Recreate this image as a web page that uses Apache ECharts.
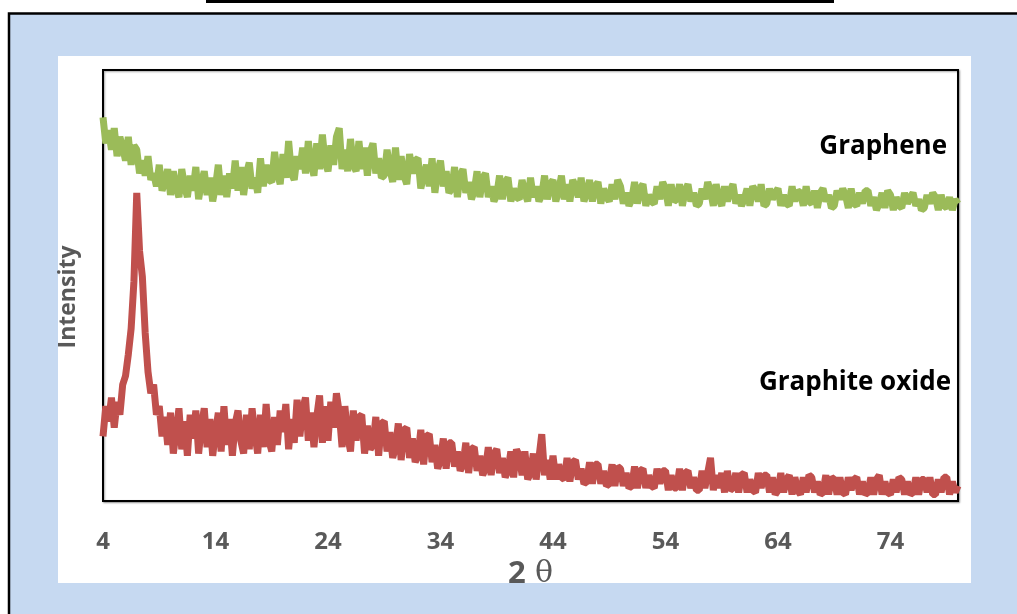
<!DOCTYPE html>
<html>
<head>
<meta charset="utf-8">
<title>XRD</title>
<script src="https://cdn.jsdelivr.net/npm/echarts/dist/echarts.min.js"></script>
<style>
    html, body { margin: 0; padding: 0; background: #fff; }
    #main { width: 1017px; height: 614px; }
</style>
</head>
<body>
<div id="main"></div>
<script>
// scan: 2theta from 4 to 80, step 0.25
var startAngle = 4;
var stepAngle = 0.25;
var tickLabels = [4, 14, 24, 34, 44, 54, 64, 74];
var seriesNames = ['Graphene', 'Graphite oxide'];

// intensity (arbitrary units, 0-100 over the plot height)
// one row = one degree (x.00, x.25, x.50, x.75)
var grapheneVals = [
    89, 83, 86, 81.5,
    86.5, 80, 84.5, 82,
    79, 84.5, 78, 82.5,
    81.5, 76, 79, 75.5,
    80, 74.5, 76, 73,
    78, 72, 74, 77,
    71, 76.5, 72.5, 70.5,
    77, 73, 70.5, 75.5,
    72, 77.5, 70, 74,
    76.5, 71, 75, 69.5,
    73, 78, 71, 75.5,
    70.5, 76, 72.5, 79,
    72, 77.5, 71, 76,
    78.5, 72.5, 75, 71.5,
    79.5, 73, 78, 74.5,
    74, 81, 76, 73.5,
    80.5, 75, 83.5, 76,
    74.5, 80, 77, 82,
    76, 83.5, 78, 75.5,
    83, 77, 85, 78.5,
    76.5, 82.5, 78, 84.5,
    86.5, 77, 81.5, 76.5,
    84, 78, 76.5, 83.5,
    77, 82, 75.5, 81,
    83, 76, 79.5, 75,
    75.5, 81.5, 77, 74,
    82, 74.5, 80, 75.5,
    73.5, 80.5, 76, 79,
    79.5, 72.5, 75.5, 78,
    73, 79.5, 71.5, 76.5,
    79, 73, 76.5, 71.5,
    72.5, 77.5, 70.5, 75.5,
    77, 71.5, 74, 70,
    72, 76.5, 70.5, 75,
    76, 70.5, 73, 69.5,
    71, 75.5, 70, 74,
    75, 69.5, 72.5, 70.5,
    70, 74.5, 71.5, 69.5,
    75, 70.5, 73, 69.5,
    71, 75.5, 70, 73.5,
    74.5, 69.5, 72, 75.5,
    70, 73.5, 69.5, 74.5,
    73, 70.5, 75, 69.5,
    71.5, 74.5, 69.5, 73,
    74, 69, 72.5, 70.5,
    69.5, 73.5, 70, 74.5,
    73, 69, 71.5, 68.5,
    70, 74, 69, 72.5,
    73.5, 68.5, 71, 69.5,
    69, 73, 70, 74,
    72.5, 68.5, 73.5, 69.5,
    70, 73.5, 68.5, 72,
    73.5, 69.5, 71.5, 68.5,
    69, 72.5, 70, 74,
    72, 68.5, 73.5, 70,
    68.5, 73, 69.5, 72,
    73.5, 69, 71, 68.5,
    70, 72.5, 68.5, 73,
    72, 69.5, 73.5, 68.5,
    69, 72.5, 70, 71.5,
    72.5, 68.5, 71, 69,
    68.5, 73, 69.5, 72,
    71.5, 68.5, 73, 69.5,
    69, 72, 68, 71.5,
    72.5, 69.5, 71, 68,
    68.5, 72, 70, 72.5,
    71, 68, 72.5, 69,
    68.5, 71.5, 69, 72,
    72, 68.5, 70.5, 67.5,
    69, 71.5, 68, 72,
    71, 67.5, 70.5, 68.5,
    68, 71.5, 69, 70.5,
    71.5, 68.5, 70, 67.5,
    68, 71, 69, 71.5,
    70.5, 67.5, 71, 68.5,
    68, 70.5, 67.5, 70,
    69
];

var oxideVals = [
    15, 22, 18.5, 24,
    17, 23, 20, 27,
    29, 34, 40, 51,
    71.5, 58, 52, 39,
    30, 25, 27, 20,
    22, 15, 19.5, 13,
    20.5, 11, 16, 21.5,
    12, 18.5, 10.5, 20,
    14.5, 21, 11, 17.5,
    21.5, 12.5, 19, 10.5,
    16, 20.5, 11.5, 22,
    13, 19, 10.5, 18,
    21, 14, 11, 20,
    12, 21.5, 15.5, 11,
    20, 12.5, 22.5, 14,
    11.5, 19.5, 13, 21,
    16, 22.5, 12, 19,
    13.5, 23.5, 15, 21.5,
    24, 14, 20.5, 12.5,
    19.5, 24.5, 13.5, 22,
    14, 23, 17, 25,
    20.5, 12.5, 22, 15,
    11.5, 21, 14, 19.5,
    20, 11, 17.5, 12,
    13, 19.5, 10.5, 18,
    18.5, 11.5, 16, 10,
    12.5, 18, 9.5, 16.5,
    17, 10, 14.5, 9,
    10.5, 16.5, 8.5, 15,
    15.5, 9, 13, 7.5,
    9.5, 14.5, 7.5, 13.5,
    13.5, 8, 11.5, 7,
    8.5, 13.5, 6.5, 12,
    12.5, 7, 10.5, 6,
    7.5, 12.5, 6, 11,
    12, 6.5, 10, 5.5,
    7, 11.5, 5.5, 12,
    10.5, 6, 11.5, 5,
    6.5, 11, 5, 10,
    15.5, 6, 9.5, 5,
    10.5, 5, 8.5, 5.5,
    5, 10, 4.5, 9,
    9.5, 5, 7.5, 4,
    4.5, 9, 4, 8.5,
    8.5, 4, 7, 3.5,
    4, 8.5, 3.5, 8,
    7.5, 3.5, 6.5, 3,
    3.5, 8, 3, 7,
    7.5, 3, 6, 3.5,
    3, 7.5, 4, 7,
    7, 2.5, 6, 3,
    3, 7.5, 2.5, 6.5,
    7, 3, 5.5, 2.5,
    2.5, 7, 3, 6.5,
    10, 2.5, 6, 3,
    6.5, 2, 7, 2.5,
    3, 6.5, 2, 6,
    6.5, 2, 5, 2.5,
    2, 6.5, 3, 6,
    6, 2, 5.5, 1.5,
    2.5, 6.5, 2, 5,
    6, 1.5, 5.5, 2.5,
    1.5, 5.5, 2, 6,
    5.5, 2, 4.5, 1.5,
    2, 6, 1.5, 5.5,
    5, 1.5, 5.5, 2,
    1.5, 5.5, 2.5, 5,
    5.5, 1.5, 4.5, 1.5,
    2, 5.5, 1.5, 5,
    6, 1.5, 4.5, 2,
    1.5, 5, 2, 5.5,
    5, 1.5, 4.5, 1.5,
    2, 5.5, 1.5, 5,
    5, 2, 5.5, 1.5,
    1.5, 5, 2, 5.5,
    5.5, 1.5, 4.5, 2,
    3.5
];

function toPairs(vals) {
    var out = [];
    for (var i = 0; i < vals.length; i++) {
        out.push([startAngle + i * stepAngle, vals[i]]);
    }
    return out;
}

var myChart = echarts.init(document.getElementById('main'));

var option = {
    animation: false,
    backgroundColor: '#fff',
    graphic: [
        // underline left over from the page above
        { type: 'rect', z: -20, shape: { x: 206, y: 0, width: 628, height: 3 }, style: { fill: '#000' } },
        // light blue panel
        { type: 'rect', z: -20, shape: { x: 9, y: 13.5, width: 1040, height: 640 }, style: { fill: '#c6d9f1', stroke: '#000', lineWidth: 2.5 } },
        // white chart area
        { type: 'rect', z: -19, shape: { x: 58, y: 56, width: 913, height: 527 }, style: { fill: '#fff' } },
        {
            type: 'text', z: 50, x: 68, y: 297, rotation: Math.PI / 2,
            style: { text: 'Intensity', fill: '#595959', font: 'bold 23px "Open Sans"', textAlign: 'center', textVerticalAlign: 'middle' }
        },
        {
            type: 'text', z: 50, x: 947, y: 147,
            style: { text: seriesNames[0], fill: '#000', font: 'bold 26px "Open Sans"', textAlign: 'right', textVerticalAlign: 'middle' }
        },
        {
            type: 'text', z: 50, x: 951, y: 383,
            style: { text: seriesNames[1], fill: '#000', font: 'bold 26px "Open Sans"', textAlign: 'right', textVerticalAlign: 'middle' }
        }
    ],
    grid: {
        show: true,
        left: 103,
        top: 70,
        right: 59,
        bottom: 113,
        backgroundColor: '#fff',
        borderColor: '#000',
        borderWidth: 2,
        shadowColor: 'rgba(0,0,0,0.35)',
        shadowBlur: 2,
        shadowOffsetX: 1,
        shadowOffsetY: 1
    },
    xAxis: {
        type: 'value',
        min: 4,
        max: 80,
        name: '{a|2} {b|θ}',
        nameLocation: 'middle',
        nameGap: 48,
        nameTextStyle: {
            rich: {
                a: { fontFamily: 'Open Sans', fontWeight: 'bold', fontSize: 31, color: '#595959' },
                b: { fontFamily: 'DejaVu Serif', fontSize: 30, color: '#595959', padding: [0, 0, 0, 6] }
            }
        },
        axisLine: { show: false },
        axisTick: { show: false },
        splitLine: { show: false },
        axisLabel: {
            customValues: tickLabels,
            margin: 29,
            color: '#595959',
            fontFamily: 'Open Sans',
            fontWeight: 'bold',
            fontSize: 24
        }
    },
    yAxis: {
        type: 'value',
        min: 0,
        max: 100,
        axisLine: { show: false },
        axisTick: { show: false },
        axisLabel: { show: false },
        splitLine: { show: false }
    },
    series: [{
        name: seriesNames[1],
        type: 'line',
        showSymbol: false,
        data: toPairs(oxideVals),
        lineStyle: { color: '#c0504d', width: 7 }
    }, {
        name: seriesNames[0],
        type: 'line',
        showSymbol: false,
        data: toPairs(grapheneVals),
        lineStyle: { color: '#9bbb59', width: 7 }
    }]
};

myChart.setOption(option);
</script>
</body>
</html>
